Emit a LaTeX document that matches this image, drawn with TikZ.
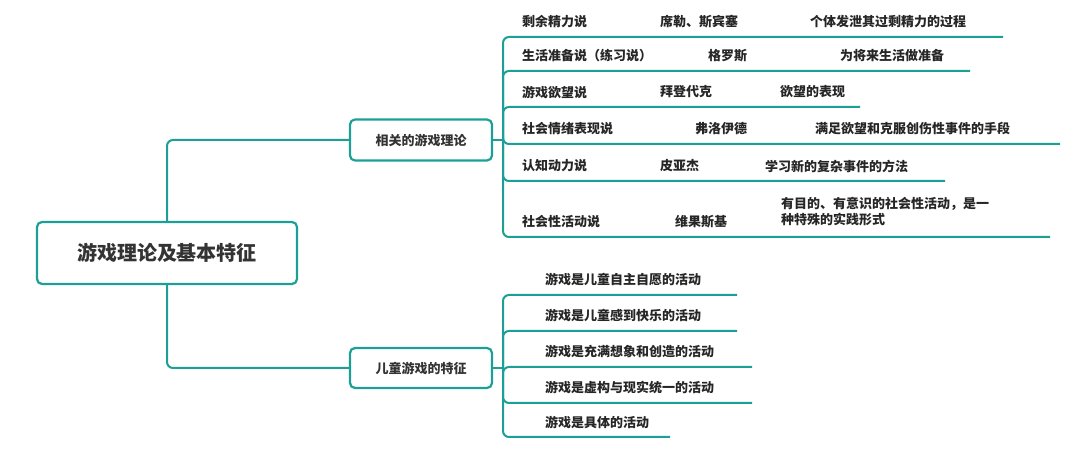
\documentclass[tikz,border=0pt]{standalone}
\usepackage{fontspec}
\setmainfont{Noto Sans CJK SC}
\usetikzlibrary{positioning}
\definecolor{teal}{RGB}{28,160,150}
\tikzset{
  box/.style={draw=teal, line width=2.2pt, rounded corners=5pt, inner sep=0pt, text=black!80},
  leaf/.style={anchor=west, inner sep=0pt, text=black!85, font=\fontsize{13}{16}\selectfont\bfseries},
  link/.style={draw=teal, line width=2pt, rounded corners=6pt}
}
\begin{document}
\begin{tikzpicture}[x=1pt,y=-1pt]
\useasboundingbox (0,0) rectangle (1080,462);

\node [box, minimum width=260, minimum height=62, font=\fontsize{20}{24}\selectfont\bfseries] (root) at (167,253) {游戏理论及基本特征};
\node [box, minimum width=142, minimum height=41, font=\fontsize{13}{16}\selectfont\bfseries] (theory) at (421,140) {相关的游戏理论};
\node [box, minimum width=142, minimum height=40, font=\fontsize{13}{16}\selectfont\bfseries] (feature) at (421,368) {儿童游戏的特征};

\draw [link] (root.north) -- (167,140) -- (theory.west);
\draw [link] (root.south) -- (167,368) -- (feature.west);

\coordinate (hubA) at (503,140);
\coordinate (hubB) at (503,368);
\draw [link] (theory.east) -- (hubA);
\draw [link] (feature.east) -- (hubB);

% theories
\foreach \y/\xe/\a/\xb/\b/\xc/\c [count=\i] in {
  37/1003/剩余精力说/660/席勒、斯宾塞/810/个体发泄其过剩精力的过程,
  71/970/生活准备说（练习说）/708/格罗斯/840/为将来生活做准备,
  107/860/游戏欲望说/660/拜登代克/780/欲望的表现,
  144/1060/社会情绪表现说/695/弗洛伊德/815/满足欲望和克服创伤性事件的手段,
  181/945/认知动力说/660/皮亚杰/765/学习新的复杂事件的方法,
  237/1050/社会性活动说/675/维果斯基/780/{}}{
  \coordinate (t\i) at (\xe,\y);
  \draw [link] (hubA) -- (503,\y) -- (t\i);
  \node [leaf] (ta\i) at (522,{\y-15}) {\a};
  \node [leaf] (tb\i) at (\xb,{\y-15}) {\b};
  \node [leaf] (tc\i) at (\xc,{\y-15}) {\c};
}
\node [leaf, align=left] (tc6x) at (781,212) {有目的、有意识的社会性活动，是一\\种特殊的实践形式};

% features
\foreach \y/\xe/\t [count=\i] in {
  295/737/游戏是儿童自主自愿的活动,
  331/737/游戏是儿童感到快乐的活动,
  367/752/游戏是充满想象和创造的活动,
  403/752/游戏是虚构与现实统一的活动,
  437/670/游戏是具体的活动}{
  \coordinate (f\i) at (\xe,\y);
  \draw [link] (hubB) -- (503,\y) -- (f\i);
  \node [leaf] (fa\i) at (545,{\y-15}) {\t};
}
\end{tikzpicture}
\end{document}
